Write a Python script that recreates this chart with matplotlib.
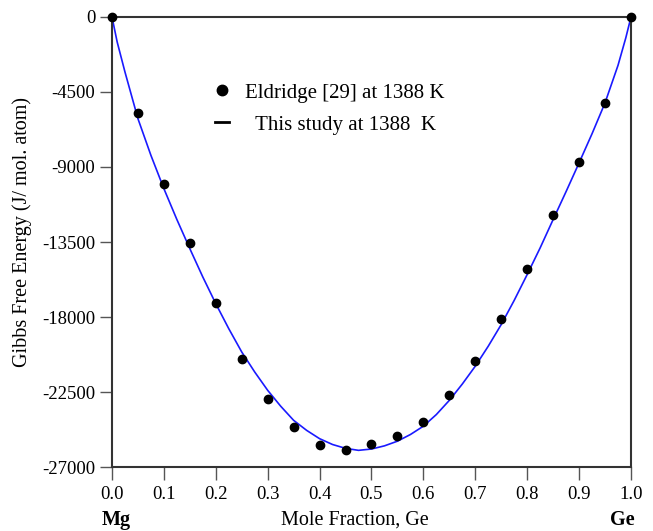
import matplotlib.pyplot as plt
from matplotlib.lines import Line2D

plt.rcParams['font.family'] = ['Liberation Serif', 'DejaVu Serif']

# Eldridge [29] measured points
x_eldridge = [0.0, 0.05, 0.1, 0.15, 0.2, 0.25, 0.3, 0.35, 0.4, 0.45, 0.5,
              0.55, 0.6, 0.65, 0.7, 0.75, 0.8, 0.85, 0.9, 0.95, 1.0]
g_eldridge = [0, -5780, -10020, -13540, -17180, -20520, -22900, -24600, -25660, -25960, -25620,
              -25160, -24300, -22660, -20620, -18140, -15120, -11880, -8700, -5140, 0]

# this study (calculated curve)
x_calc = [0.0, 0.01, 0.025, 0.05, 0.075, 0.1, 0.125, 0.15, 0.175, 0.2, 0.225, 0.25, 0.275,
          0.3, 0.325, 0.35, 0.375, 0.4, 0.425, 0.45, 0.475, 0.5, 0.525, 0.55, 0.575, 0.6,
          0.625, 0.65, 0.675, 0.7, 0.725, 0.75, 0.775, 0.8, 0.825, 0.85, 0.875, 0.9,
          0.925, 0.95, 0.975, 0.99, 1.0]
g_calc = [0, -1500, -3300, -6100, -8300, -10300, -12150, -13900, -15600, -17200, -18700, -20100, -21300,
          -22400, -23350, -24200, -24800, -25300, -25650, -25880, -26000, -25920, -25730, -25450, -25050, -24550,
          -23850, -23000, -22020, -20950, -19750, -18450, -17000, -15450, -13850, -12150, -10470, -8750,
          -7000, -5150, -2900, -1250, 0]

yticks = [0, -4500, -9000, -13500, -18000, -22500, -27000]
xticks = [0.0, 0.1, 0.2, 0.3, 0.4, 0.5, 0.6, 0.7, 0.8, 0.9, 1.0]

fig = plt.figure(figsize=(6.53, 5.31), dpi=100)
ax = fig.add_axes([0.1715, 0.1205, 0.7948, 0.8475])

ax.plot(x_calc, g_calc, '-', color='#1a1aff', lw=1.2, clip_on=False, zorder=2)
ax.plot(x_eldridge, g_eldridge, 'o', color='black', ms=6, clip_on=False, zorder=3)

ax.set_xlim(0, 1)
ax.set_ylim(-27000, 0)
ax.set_xticks(xticks)
ax.set_xticklabels(['%.1f' % t for t in xticks])
ax.set_yticks(yticks)
ax.set_yticklabels([str(t) for t in yticks])
ax.tick_params(direction='out', length=9, width=1, color='#555555')
ax.tick_params(axis='x', labelsize=13.5, pad=5)
ax.tick_params(axis='y', labelsize=13.5, pad=3)
for s in ax.spines.values():
    s.set_linewidth(1.5)
    s.set_color('#333333')

fig.text(22 / 653, 1 - 232 / 531, 'Gibbs Free Energy (J/ mol. atom)', fontsize=14.5,
         rotation=90, ha='center', va='center')
fig.text(355 / 653, 1 - 525 / 531, 'Mole Fraction, Ge', fontsize=14.5, ha='center', va='baseline')
fig.text(102 / 653, 1 - 525 / 531, 'Mg', fontsize=14.5, fontweight='bold', ha='left', va='baseline')
fig.text(635 / 653, 1 - 525 / 531, 'Ge', fontsize=14.5, fontweight='bold', ha='right', va='baseline')

handles = [Line2D([], [], marker='o', color='black', ls='none', ms=7.5),
           Line2D([], [], color='black', lw=2)]
ax.legend(handles, ['Eldridge [29] at 1388 K', '  This study at 1388  K'],
          loc='upper left', bbox_to_anchor=(0.162, 0.895), frameon=False,
          fontsize=15, handlelength=0.7, handletextpad=0.75, labelspacing=0.6)

fig.savefig('out.png', dpi=100)
